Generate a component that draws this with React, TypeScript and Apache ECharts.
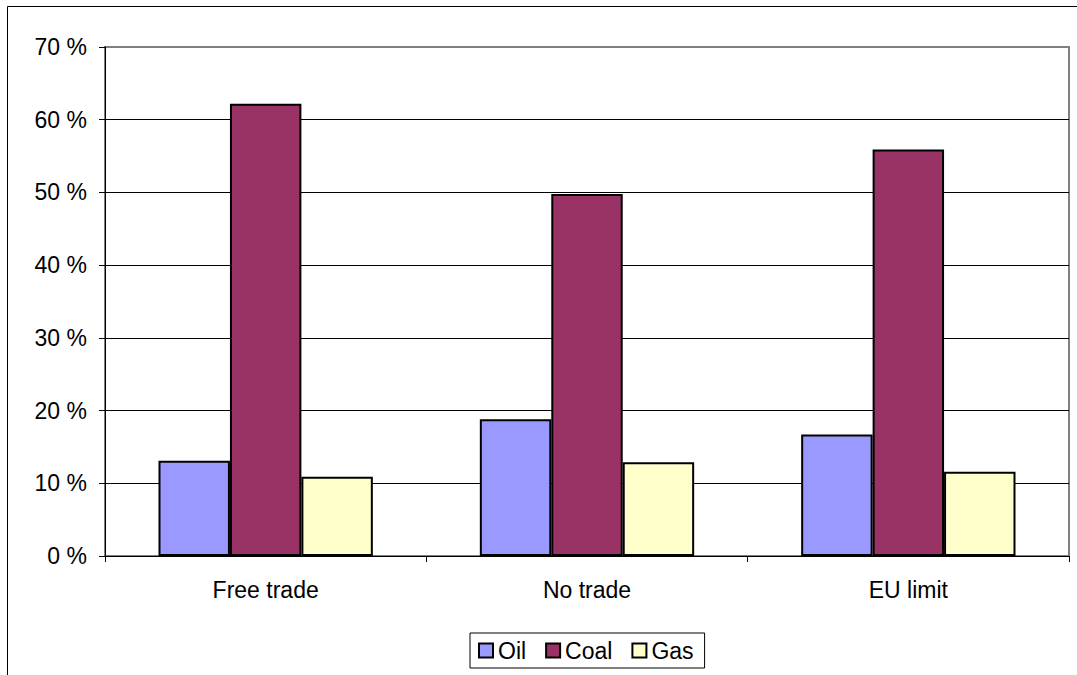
import React, { useEffect, useRef } from "react";
import * as echarts from "echarts";

const categories = ["Free trade", "No trade", "EU limit"];
const seriesNames = ["Oil", "Coal", "Gas"];
const oilValues = [13.1, 18.8, 16.7];
const coalValues = [62.2, 49.8, 55.9];
const gasValues = [10.9, 12.9, 11.6];
const seriesColors = ["#9999FF", "#993366", "#FFFFCC"];

const FONT = 'Arial, "Liberation Sans", sans-serif';

export default function App() {
  const ref = useRef<HTMLDivElement>(null);

  useEffect(() => {
    if (!ref.current) return;
    const chart = echarts.init(ref.current, null, { renderer: "svg" });
    const values = [oilValues, coalValues, gasValues];

    chart.setOption({
      animation: false,
      backgroundColor: "#ffffff",
      textStyle: { fontFamily: FONT },
      graphic: [
        {
          type: "rect",
          shape: { x: 7.5, y: 6.5, width: 1200, height: 800 },
          style: { fill: "none", stroke: "#000", lineWidth: 1 },
          silent: true,
        },
      ],
      grid: {
        left: 105,
        right: 8,
        top: 47,
        bottom: 119,
        show: true,
        borderColor: "#808080",
        borderWidth: 2,
        backgroundColor: "transparent",
      },
      legend: {
        data: seriesNames,
        left: 470,
        top: 633,
        orient: "horizontal",
        icon: "rect",
        itemWidth: 14,
        itemHeight: 14,
        itemGap: 19,
        padding: [6, 11, 6, 8],
        borderColor: "#000",
        borderWidth: 1,
        textStyle: { fontSize: 23, color: "#000", fontFamily: FONT },
      },
      xAxis: {
        type: "category",
        data: categories,
        boundaryGap: true,
        axisLine: { show: true, lineStyle: { color: "#000", width: 1 } },
        axisTick: { show: true, length: 6, lineStyle: { color: "#000" } },
        axisLabel: { fontSize: 23, color: "#000", margin: 22, fontFamily: FONT },
        splitLine: { show: false },
      },
      yAxis: {
        type: "value",
        min: 0,
        max: 70,
        interval: 10,
        axisLine: { show: true, lineStyle: { color: "#000", width: 1 } },
        axisTick: { show: true, length: 6, lineStyle: { color: "#000" } },
        axisLabel: {
          fontSize: 23,
          color: "#000",
          margin: 18,
          fontFamily: FONT,
          formatter: "{value} %",
        },
        splitLine: {
          show: true,
          lineStyle: {
            color: ["#000", "#000", "#000", "#000", "#000", "#000", "#000", "#808080"],
            width: 1,
          },
        },
      },
      series: seriesNames.map((name, i) => ({
        name,
        type: "bar",
        data: values[i],
        barGap: "0%",
        barCategoryGap: "33.3%",
        itemStyle: {
          color: seriesColors[i],
          borderColor: "#000",
          borderWidth: 2,
        },
      })),
    });

    return () => chart.dispose();
  }, []);

  return (
    <div
      ref={ref}
      style={{ position: "fixed", left: 0, top: 0, width: 1077, height: 675 }}
    />
  );
}
